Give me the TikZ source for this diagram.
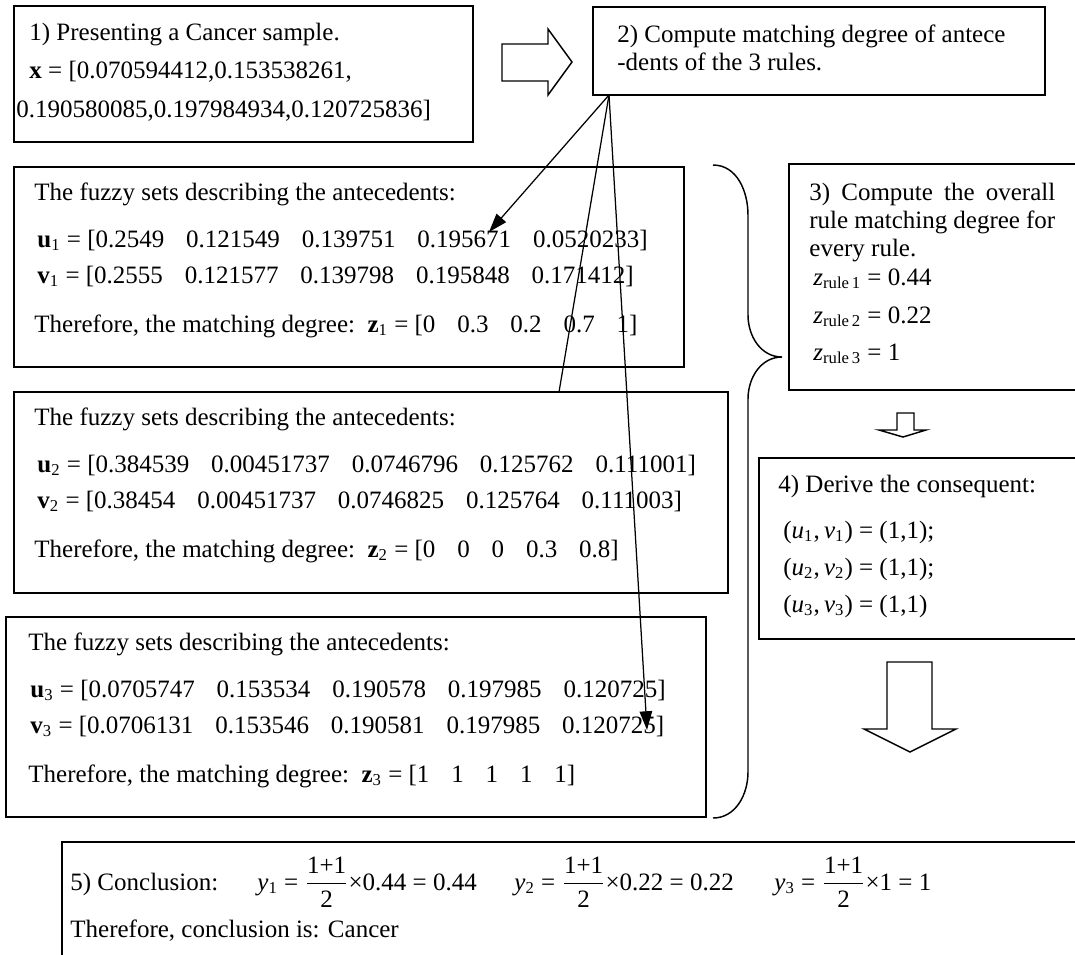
\documentclass[tikz,border=0pt]{standalone}
\usepackage{amsmath}
\usepackage{fontspec}
\setmainfont{Liberation Serif}
\usetikzlibrary{arrows.meta,fit}

\newcommand{\gapnum}{\hspace{10.5pt}}
\newcommand{\sub}[1]{\textsubscript{#1}}

\begin{document}
\begin{tikzpicture}[
    x=0.48pt,y=-0.48pt,
    box/.style={draw,line width=0.7pt,inner sep=0pt},
    txt/.style={anchor=base west,inner sep=0pt,font=\fontsize{12}{13.8}\selectfont},
    link/.style={line width=0.6pt},
    pointer/.style={link,-{Triangle[length=9pt,width=6pt]}},
    hollow/.style={draw,line width=0.7pt,fill=white,line join=miter}
  ]
  \fill[white] (0,0) rectangle (1075,954);
  \useasboundingbox (0,0) rectangle (1075,954);
  \clip (0,0) rectangle (1075,954);

  % boxes
  \node[box,fit={(14,6) (473,142)}] (sample) {};
  \node[box,fit={(593,7) (1045,95)}] (match) {};
  \node[box,fit={(14,167) (684,367)}] (fuzzA) {};
  \node[box,fit={(14,392) (728,593)}] (fuzzB) {};
  \node[box,fit={(6,617) (706,817)}] (fuzzC) {};
  \node[box,fit={(789,164) (1090,390)}] (overall) {};
  \node[box,fit={(759,458) (1090,639)}] (conseq) {};
  \node[box,fit={(62,842) (1090,980)}] (concl) {};

  % step 1
  \node[txt] (sampA) at (29,40) {1) Presenting a Cancer sample.};
  \node[txt] (sampB) at (29,78) {\textbf{x} = [0.070594412,0.153538261,};
  \node[txt] (sampC) at (16,117) {0.190580085,0.197984934,0.120725836]};

  % step 2
  \node[txt] (matchA) at (617,42) {2) Compute matching degree of antece};
  \node[txt] (matchB) at (617,70) {-dents of the 3 rules.};

  % rule 1
  \node[txt] (fuzzAa) at (34,200) {The fuzzy sets describing the antecedents:};
  \node[txt] (fuzzAb) at (37,247) {\textbf{u}\sub{1} = [0.2549\gapnum 0.121549\gapnum 0.139751\gapnum 0.195671\gapnum 0.0520233]};
  \node[txt] (fuzzAc) at (37,283) {\textbf{v}\sub{1} = [0.2555\gapnum 0.121577\gapnum 0.139798\gapnum 0.195848\gapnum 0.171412]};
  \node[txt] (fuzzAd) at (34,332) {Therefore, the matching degree:\ \ \textbf{z}\sub{1} = [0\gapnum 0.3\gapnum 0.2\gapnum 0.7\gapnum 1]};

  % rule 2
  \node[txt] (fuzzBa) at (34,425) {The fuzzy sets describing the antecedents:};
  \node[txt] (fuzzBb) at (37,472) {\textbf{u}\sub{2} = [0.384539\gapnum 0.00451737\gapnum 0.0746796\gapnum 0.125762\gapnum 0.111001]};
  \node[txt] (fuzzBc) at (37,508) {\textbf{v}\sub{2} = [0.38454\gapnum 0.00451737\gapnum 0.0746825\gapnum 0.125764\gapnum 0.111003]};
  \node[txt] (fuzzBd) at (34,557) {Therefore, the matching degree:\ \ \textbf{z}\sub{2} = [0\gapnum 0\gapnum 0\gapnum 0.3\gapnum 0.8]};

  % rule 3
  \node[txt] (fuzzCa) at (28,650) {The fuzzy sets describing the antecedents:};
  \node[txt] (fuzzCb) at (30,697) {\textbf{u}\sub{3} = [0.0705747\gapnum 0.153534\gapnum 0.190578\gapnum 0.197985\gapnum 0.120725]};
  \node[txt] (fuzzCc) at (30,733) {\textbf{v}\sub{3} = [0.0706131\gapnum 0.153546\gapnum 0.190581\gapnum 0.197985\gapnum 0.120725]};
  \node[txt] (fuzzCd) at (28,782) {Therefore, the matching degree:\ \ \textbf{z}\sub{3} = [1\gapnum 1\gapnum 1\gapnum 1\gapnum 1]};

  % step 3
  \node[txt] (overA) at (809,200) {\makebox[118pt][s]{3) Compute the overall}};
  \node[txt] (overB) at (809,228) {\makebox[118pt][s]{rule matching degree for}};
  \node[txt] (overC) at (809,256) {every rule.};
  \node[txt] (overD) at (813,285) {\textit{z}\sub{rule\,1} = 0.44};
  \node[txt] (overE) at (813,323) {\textit{z}\sub{rule\,2} = 0.22};
  \node[txt] (overF) at (813,360) {\textit{z}\sub{rule\,3} = 1};

  % step 4
  \node[txt] (consA) at (778,492) {4) Derive the consequent:};
  \node[txt] (consB) at (783,538) {(\textit{u}\sub{1},\,\textit{v}\sub{1}) = (1,1);};
  \node[txt] (consC) at (783,575) {(\textit{u}\sub{2},\,\textit{v}\sub{2}) = (1,1);};
  \node[txt] (consD) at (783,612) {(\textit{u}\sub{3},\,\textit{v}\sub{3}) = (1,1)};

  % step 5
  \node[txt] (conclA) at (70,890) {5) Conclusion:};
  \node[txt] (conclB) at (257,890) {\textit{y}\sub{1} = $\dfrac{\text{1+1}}{\text{2}}$×0.44 = 0.44};
  \node[txt] (conclC) at (514,890) {\textit{y}\sub{2} = $\dfrac{\text{1+1}}{\text{2}}$×0.22 = 0.22};
  \node[txt] (conclD) at (774,890) {\textit{y}\sub{3} = $\dfrac{\text{1+1}}{\text{2}}$×1 = 1};
  \node[txt] (conclE) at (70,937) {Therefore, conclusion is: Cancer};

  % hollow block arrows
  \draw[hollow] (502,44) -- (548,44) -- (548,29) -- (572,62) -- (548,95) -- (548,81) -- (502,81) -- cycle;
  \draw[hollow] (897,413) -- (914,413) -- (914,430) -- (926,430) -- (903,437) -- (879,430) -- (897,430) -- cycle;
  \draw[hollow] (887,662) -- (932,662) -- (932,729) -- (956,729) -- (910,752) -- (864,729) -- (887,729) -- cycle;

  % brace
  \draw[link,line width=0.7pt] (713,165) to[out=0,in=90] (748,215) -- (748,315)
    to[out=-90,in=180] (782,357) to[out=180,in=90] (748,399) -- (748,772)
    to[out=-90,in=0] (713,818);

  % connectors from step 2
  \coordinate (src) at (609,95);
  \coordinate (hitA) at (489,232);
  \coordinate (hitB) at (559,392);
  \coordinate (hitC) at (647,730);
  \draw[pointer] (src) -- (hitA);
  \draw[link] (src) -- (hitB);
  \draw[pointer] (src) -- (hitC);
\end{tikzpicture}
\end{document}
